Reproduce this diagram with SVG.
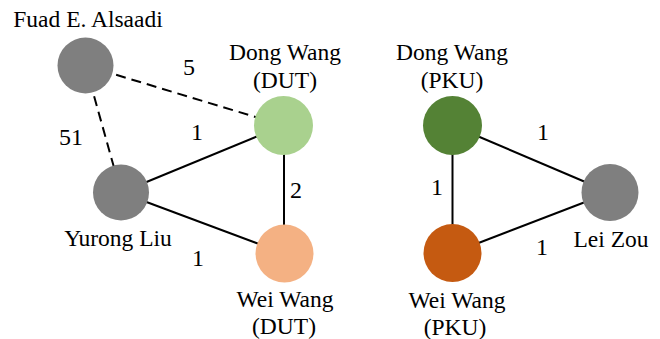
<svg xmlns="http://www.w3.org/2000/svg" width="660" height="339" viewBox="0 0 660 339">
<style>
text{font-family:"Liberation Serif","Times New Roman",serif;font-size:23.5px;fill:#000;text-anchor:middle}
.n{font-size:24px}
.e{stroke:#000;stroke-width:2;fill:none}
.d{stroke-dasharray:10 6}
</style>
<rect width="660" height="339" fill="#fff"/>
<g id="connectors">
<line class="e d" x1="85.5" y1="65.5" x2="283.5" y2="125.5"/>
<line class="e d" x1="85.5" y1="65.5" x2="121" y2="192.5"/>
<line class="e" x1="121" y1="192.5" x2="283.5" y2="125.5"/>
<line class="e" x1="121" y1="192.5" x2="284.5" y2="253.5"/>
<line class="e" x1="284" y1="125.5" x2="284" y2="253.5"/>
<line class="e" x1="452.5" y1="125.5" x2="452.5" y2="253"/>
<line class="e" x1="452.5" y1="125.5" x2="610" y2="192.5"/>
<line class="e" x1="452.5" y1="253" x2="610" y2="192.5"/>
<text class="n" x="189" y="75">5</text>
<text class="n" x="71" y="145">51</text>
<text class="n" x="197" y="140">1</text>
<text class="n" x="296" y="198">2</text>
<text class="n" x="198" y="266">1</text>
<text class="n" x="543" y="140">1</text>
<text class="n" x="437" y="195">1</text>
<text class="n" x="542" y="255">1</text>
</g>
<g id="fuad"><circle cx="85.5" cy="65.5" r="28" fill="#7f7f7f"/><text x="88" y="27">Fuad E. Alsaadi</text></g>
<g id="dong-dut"><circle cx="283.5" cy="125.5" r="29.5" fill="#a9d18e"/><text x="285" y="60">Dong Wang</text><text x="285" y="88">(DUT)</text></g>
<g id="yurong"><circle cx="121" cy="192.5" r="28" fill="#7f7f7f"/><text x="118" y="246">Yurong Liu</text></g>
<g id="wei-dut"><circle cx="284.5" cy="253.5" r="29" fill="#f4b183"/><text x="285" y="307">Wei Wang</text><text x="284" y="334">(DUT)</text></g>
<g id="dong-pku"><circle cx="452.5" cy="125.5" r="29.5" fill="#548235"/><text x="452" y="60">Dong Wang</text><text x="452" y="88">(PKU)</text></g>
<g id="wei-pku"><circle cx="452.5" cy="253" r="29" fill="#c55a11"/><text x="457" y="308">Wei Wang</text><text x="455" y="335">(PKU)</text></g>
<g id="lei"><circle cx="610" cy="192.5" r="28.5" fill="#7f7f7f"/><text x="611" y="247">Lei Zou</text></g>
</svg>
